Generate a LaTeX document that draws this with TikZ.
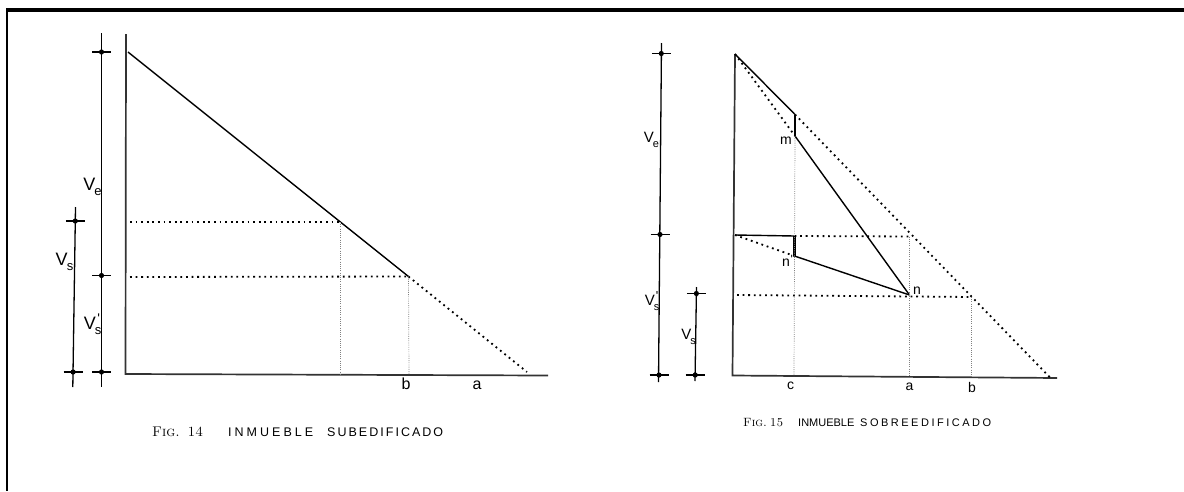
\documentclass[tikz,border=0pt]{standalone}
\usepackage{fontspec}
\newfontfamily\lab{Liberation Sans}
\usetikzlibrary{calc}
\begin{document}
\begin{tikzpicture}[x=1pt,y=-1pt,
  mainln/.style={line width=1.4pt, black},
  axisln/.style={line width=1.7pt, black!80},
  heavydot/.style={line width=1.8pt, dash pattern=on 1.8pt off 3.8pt, black},
  finedot/.style={line width=0.7pt, dash pattern=on 0.9pt off 1.3pt, black!50},
  thickseg/.style={line width=2.6pt, black},
  scaleln/.style={line width=1.3pt, black},
  framelnA/.style={line width=3.5pt, black},
  framelnB/.style={line width=2.8pt, black},
  tickmark/.pic={\draw[scaleln] (-9.5,0)--(9.5,0); \fill (0,0) circle (2.6pt);},
  lblA/.style={inner sep=0pt, font=\lab\fontsize{18}{18}\selectfont},
  lblB/.style={inner sep=0pt, font=\lab\fontsize{15}{15}\selectfont},
  ltrA/.style={inner sep=0pt, font=\lab\fontsize{16}{16}\selectfont},
  ltrB/.style={inner sep=0pt, font=\lab\fontsize{14}{14}\selectfont},
  capt/.style={inner sep=0pt, anchor=west},
]
\useasboundingbox (0,0) rectangle (1184,491);
\fill[white] (0,0) rectangle (1184,491);
% frame
\coordinate (fTL) at (7,10);
\coordinate (fTR) at (1184,10);
\coordinate (fBL) at (7,491);
\draw[framelnA] (fTL) -- (fTR);
\draw[framelnB] ($(fTL)+(0,-1.7)$) -- (fBL);

% ================= FIG 14 =================
\coordinate (veT) at (101.5,33);
\coordinate (veB) at (101.5,387);
\coordinate (ve1) at (101.5,52);
\coordinate (ve2) at (101.5,275.5);
\coordinate (ve3) at (101.5,372);
\draw[scaleln] (veT) -- (veB);
\pic at (ve1) {tickmark};
\pic at (ve2) {tickmark};
\pic at (ve3) {tickmark};
\coordinate (vsT) at (75.5,207);
\coordinate (vsB) at (72.8,387);
\coordinate (vs1) at (75.3,221);
\coordinate (vs2) at (73.1,372);
\draw[scaleln] (vsT) -- (vsB);
\pic at (vs1) {tickmark};
\pic at (vs2) {tickmark};
\node[lblA] (lVe) at (92.5,187) {V\kern-1pt\raisebox{-5pt}{\fontsize{13}{13}\selectfont e}};
\node[lblA] (lVs) at (64.5,262) {V\kern-1pt\raisebox{-5pt}{\fontsize{13}{13}\selectfont s}};
\node[lblA] (lVsp) at (92,324) {V\kern-1pt\raisebox{-5pt}{\fontsize{13}{13}\selectfont s}\kern-4pt\raisebox{6pt}{\fontsize{14}{14}\selectfont '}};
% axes
\coordinate (A) at (126,34);
\coordinate (O) at (125.5,374);
\coordinate (X) at (548,375.5);
\draw[axisln] (A) -- (O) -- (X);
% diagonal
\coordinate (P) at (128,52);
\coordinate (Q) at (408.5,276.5);
\coordinate (R) at (527,372);
\coordinate (H1) at (340,222);
\coordinate (H1s) at (130,222);
\coordinate (Qs) at (130,277);
\coordinate (H1b) at (340,374);
\coordinate (Qb) at (409,374.5);
\draw[mainln] (P) -- (Q);
\draw[heavydot] (Q) -- (R);
\draw[heavydot] (H1s) -- (H1);
\draw[heavydot] (Qs) -- (Q);
\draw[finedot] (H1) -- (H1b);
\draw[finedot] (Q) -- (Qb);
\node[ltrA] (lb1) at (406,384) {b};
\node[ltrA] (la1) at (477,385) {a};
% caption
\node[capt] (fig14) at (152,432) {\makebox[51pt][s]{\fontsize{14}{14}\selectfont\scshape Fig.\hfill 14}};
\node[capt] (inm14) at (228,432) {\makebox[85pt][s]{\lab\fontsize{12.5}{12.5}\selectfont I\hfill N\hfill M\hfill U\hfill E\hfill B\hfill L\hfill E}};
\node[capt] (sub14) at (327,432) {\makebox[116pt][s]{\lab\fontsize{12.5}{12.5}\selectfont S\hfill U\hfill B\hfill E\hfill D\hfill I\hfill F\hfill I\hfill C\hfill A\hfill D\hfill O}};

% ================= FIG 15 =================
\coordinate (weT) at (661.5,43);
\coordinate (weB) at (658.5,382);
\coordinate (we1) at (661.3,53.5);
\coordinate (we2) at (660,234.5);
\coordinate (we3) at (659,375);
\draw[scaleln] (weT) -- (weB);
\pic at (we1) {tickmark};
\pic at (we2) {tickmark};
\pic at (we3) {tickmark};
\coordinate (wsT) at (696.5,287);
\coordinate (wsB) at (695,381);
\coordinate (ws1) at (696.4,293.5);
\coordinate (ws2) at (695.2,375);
\draw[scaleln] (wsT) -- (wsB);
\pic at (ws1) {tickmark};
\pic at (ws2) {tickmark};
\node[lblB] (mVe) at (651.5,140) {V\kern-1pt\raisebox{-4.5pt}{\fontsize{11}{11}\selectfont e}};
\node[lblB] (mVsp) at (651.5,301) {V\kern-1pt\raisebox{-4.5pt}{\fontsize{11}{11}\selectfont s}\kern-3.5pt\raisebox{5.5pt}{\fontsize{13}{13}\selectfont '}};
\node[lblB] (mVs) at (688.5,337) {V\kern-1pt\raisebox{-4.5pt}{\fontsize{11}{11}\selectfont s}};
% axes
\coordinate (T) at (735,54);
\coordinate (O2) at (732.5,375.5);
\coordinate (X2) at (1057,378);
\draw[axisln] (T) -- (O2) -- (X2);
% big diagonal
\coordinate (U1) at (795,114.5);
\coordinate (E) at (1050,377.5);
\draw[mainln] (T) -- (U1);
\draw[heavydot] (U1) -- (E);
% m - n line
\coordinate (M) at (795,136);
\coordinate (N) at (909.5,295);
\draw[heavydot] (T) -- (M);
\draw[thickseg] (U1) -- (M);
\draw[mainln] (M) -- (N);
% lower
\coordinate (L0) at (735,235);
\coordinate (C1) at (794.5,236);
\coordinate (Np) at (794.5,256);
\draw[mainln] (L0) -- (C1);
\draw[thickseg] (C1) -- (Np);
\draw[mainln] (Np) -- (N);
\draw[heavydot] (L0) -- (Np);
\coordinate (AT) at (912,236.5);
\draw[heavydot] (C1) -- (AT);
\coordinate (L1) at (737,295);
\coordinate (B) at (971,297);
\draw[heavydot] (L1) -- (B);
% verticals
\coordinate (Cb) at (794,376);
\coordinate (Atop) at (909.5,236.5);
\coordinate (Ab) at (909.5,377);
\coordinate (Bb) at (971,377.5);
\draw[finedot] (M) -- (Cb);
\draw[finedot] (Atop) -- (Ab);
\draw[finedot] (B) -- (Bb);
% labels
\node[ltrB] (lm) at (786,140.5) {m};
\node[ltrB] (lnp) at (787.5,261) {n\kern0.5pt\raisebox{3pt}{\fontsize{12}{12}\selectfont '}};
\node[ltrB] (ln) at (917,290.5) {n};
\node[ltrB] (lc) at (790.5,386) {c};
\node[ltrB] (la2) at (909.5,387) {a};
\node[ltrB] (lb2) at (972,387.5) {b};
% caption
\node[capt] (fig15) at (743,423) {\makebox[40pt][s]{\fontsize{12}{12}\selectfont\scshape Fig.\hfill 15}};
\node[capt] (inm15) at (798,423) {\makebox[56pt][s]{\lab\fontsize{11}{11}\selectfont I\hfill N\hfill M\hfill U\hfill E\hfill B\hfill L\hfill E}};
\node[capt] (sob15) at (860,423) {\makebox[131pt][s]{\lab\fontsize{11}{11}\selectfont S\hfill O\hfill B\hfill R\hfill E\hfill E\hfill D\hfill I\hfill F\hfill I\hfill C\hfill A\hfill D\hfill O}};
\end{tikzpicture}
\end{document}
